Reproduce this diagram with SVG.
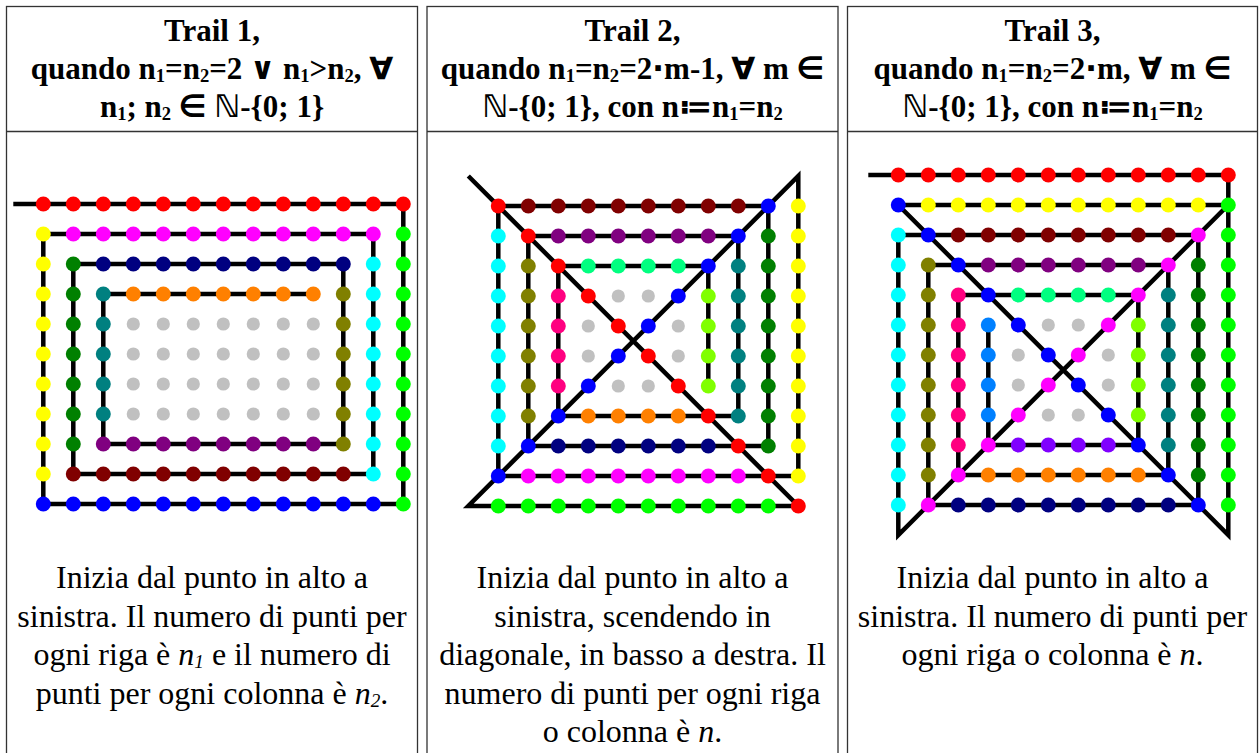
<svg xmlns="http://www.w3.org/2000/svg" width="1259" height="753" viewBox="0 0 1259 753">
<style>
.cell{fill:none;stroke:#333;stroke-width:1.3}
.h{font-family:"Liberation Serif","DejaVu Sans",serif;font-weight:bold;font-size:31px;text-anchor:middle;fill:#000}
.b{font-family:"Liberation Serif","DejaVu Serif",serif;font-size:32px;text-anchor:middle;fill:#000}
.s{font-size:60%;baseline-shift:-3px}
.i{font-style:italic}
.trail{fill:none;stroke:#000;stroke-width:.15px;stroke-linejoin:miter;stroke-linecap:butt}
.dots circle{r:.25px}
.dots .G circle{r:.22px}
.R{fill:#FF0000}.M{fill:#FF00FF}.N{fill:#000080}.O{fill:#FF8000}.G{fill:#C0C0C0}
.Y{fill:#FFFF00}.DG{fill:#008000}.T{fill:#008080}.OL{fill:#808000}.P{fill:#800080}
.MR{fill:#800000}.C{fill:#00FFFF}.L{fill:#00FF00}.B{fill:#0000FF}.SG{fill:#00FF80}
.PK{fill:#FF0080}.CH{fill:#80FF00}.AZ{fill:#0080FF}.V{fill:#8000FF}
</style>

<g id="table">
<rect class="cell" x="6.5" y="6.5" width="411" height="770"/>
<rect class="cell" x="427" y="6.5" width="411" height="770"/>
<rect class="cell" x="847.5" y="6.5" width="410" height="770"/>
<line class="cell" x1="6.5" y1="131.5" x2="417.5" y2="131.5"/>
<line class="cell" x1="427" y1="131.5" x2="838" y2="131.5"/>
<line class="cell" x1="847.5" y1="131.5" x2="1257.5" y2="131.5"/>
</g>

<g id="header1">
<text class="h" x="212" y="41">Trail 1,</text>
<text class="h" x="212" y="79">quando n<tspan class="s">1</tspan>=n<tspan class="s">2</tspan>=2 ∨ n<tspan class="s">1</tspan>&gt;n<tspan class="s">2</tspan>, ∀</text>
<text class="h" x="212" y="117">n<tspan class="s">1</tspan>; n<tspan class="s">2</tspan> ∈ ℕ-{0; 1}</text>
</g>
<g id="header2">
<text class="h" x="632.5" y="41">Trail 2,</text>
<text class="h" x="632.5" y="79">quando n<tspan class="s">1</tspan>=n<tspan class="s">2</tspan>=2⋅m-1, ∀ m ∈</text>
<text class="h" x="632.5" y="117">ℕ-{0; 1}, con n≔n<tspan class="s">1</tspan>=n<tspan class="s">2</tspan></text>
</g>
<g id="header3">
<text class="h" x="1052.5" y="41">Trail 3,</text>
<text class="h" x="1052.5" y="79">quando n<tspan class="s">1</tspan>=n<tspan class="s">2</tspan>=2⋅m, ∀ m ∈</text>
<text class="h" x="1052.5" y="117">ℕ-{0; 1}, con n≔n<tspan class="s">1</tspan>=n<tspan class="s">2</tspan></text>
</g>

<g id="panel1" transform="translate(43.3,204) scale(30)">
<g id="connectors1"><polyline class="trail" points="-1,0 12,0 12,10 0,10 0,1 11,1 11,9 1,9 1,2 10,2 10,8 2,8 2,3 9,3"/></g>
<g class="dots">
<g class="R"><circle cx="0" cy="0"/><circle cx="1" cy="0"/><circle cx="2" cy="0"/><circle cx="3" cy="0"/><circle cx="4" cy="0"/><circle cx="5" cy="0"/><circle cx="6" cy="0"/><circle cx="7" cy="0"/><circle cx="8" cy="0"/><circle cx="9" cy="0"/><circle cx="10" cy="0"/><circle cx="11" cy="0"/><circle cx="12" cy="0"/></g>
<g class="L"><circle cx="12" cy="1"/><circle cx="12" cy="2"/><circle cx="12" cy="3"/><circle cx="12" cy="4"/><circle cx="12" cy="5"/><circle cx="12" cy="6"/><circle cx="12" cy="7"/><circle cx="12" cy="8"/><circle cx="12" cy="9"/><circle cx="12" cy="10"/></g>
<g class="B"><circle cx="0" cy="10"/><circle cx="1" cy="10"/><circle cx="2" cy="10"/><circle cx="3" cy="10"/><circle cx="4" cy="10"/><circle cx="5" cy="10"/><circle cx="6" cy="10"/><circle cx="7" cy="10"/><circle cx="8" cy="10"/><circle cx="9" cy="10"/><circle cx="10" cy="10"/><circle cx="11" cy="10"/></g>
<g class="Y"><circle cx="0" cy="1"/><circle cx="0" cy="2"/><circle cx="0" cy="3"/><circle cx="0" cy="4"/><circle cx="0" cy="5"/><circle cx="0" cy="6"/><circle cx="0" cy="7"/><circle cx="0" cy="8"/><circle cx="0" cy="9"/></g>
<g class="M"><circle cx="1" cy="1"/><circle cx="2" cy="1"/><circle cx="3" cy="1"/><circle cx="4" cy="1"/><circle cx="5" cy="1"/><circle cx="6" cy="1"/><circle cx="7" cy="1"/><circle cx="8" cy="1"/><circle cx="9" cy="1"/><circle cx="10" cy="1"/><circle cx="11" cy="1"/></g>
<g class="C"><circle cx="11" cy="2"/><circle cx="11" cy="3"/><circle cx="11" cy="4"/><circle cx="11" cy="5"/><circle cx="11" cy="6"/><circle cx="11" cy="7"/><circle cx="11" cy="8"/><circle cx="11" cy="9"/></g>
<g class="MR"><circle cx="1" cy="9"/><circle cx="2" cy="9"/><circle cx="3" cy="9"/><circle cx="4" cy="9"/><circle cx="5" cy="9"/><circle cx="6" cy="9"/><circle cx="7" cy="9"/><circle cx="8" cy="9"/><circle cx="9" cy="9"/><circle cx="10" cy="9"/></g>
<g class="DG"><circle cx="1" cy="2"/><circle cx="1" cy="3"/><circle cx="1" cy="4"/><circle cx="1" cy="5"/><circle cx="1" cy="6"/><circle cx="1" cy="7"/><circle cx="1" cy="8"/></g>
<g class="N"><circle cx="2" cy="2"/><circle cx="3" cy="2"/><circle cx="4" cy="2"/><circle cx="5" cy="2"/><circle cx="6" cy="2"/><circle cx="7" cy="2"/><circle cx="8" cy="2"/><circle cx="9" cy="2"/><circle cx="10" cy="2"/></g>
<g class="OL"><circle cx="10" cy="3"/><circle cx="10" cy="4"/><circle cx="10" cy="5"/><circle cx="10" cy="6"/><circle cx="10" cy="7"/><circle cx="10" cy="8"/></g>
<g class="P"><circle cx="2" cy="8"/><circle cx="3" cy="8"/><circle cx="4" cy="8"/><circle cx="5" cy="8"/><circle cx="6" cy="8"/><circle cx="7" cy="8"/><circle cx="8" cy="8"/><circle cx="9" cy="8"/></g>
<g class="T"><circle cx="2" cy="3"/><circle cx="2" cy="4"/><circle cx="2" cy="5"/><circle cx="2" cy="6"/><circle cx="2" cy="7"/></g>
<g class="O"><circle cx="3" cy="3"/><circle cx="4" cy="3"/><circle cx="5" cy="3"/><circle cx="6" cy="3"/><circle cx="7" cy="3"/><circle cx="8" cy="3"/><circle cx="9" cy="3"/></g>
<g class="G">
<circle cx="3" cy="4"/><circle cx="4" cy="4"/><circle cx="5" cy="4"/><circle cx="6" cy="4"/><circle cx="7" cy="4"/><circle cx="8" cy="4"/><circle cx="9" cy="4"/>
<circle cx="3" cy="5"/><circle cx="4" cy="5"/><circle cx="5" cy="5"/><circle cx="6" cy="5"/><circle cx="7" cy="5"/><circle cx="8" cy="5"/><circle cx="9" cy="5"/>
<circle cx="3" cy="6"/><circle cx="4" cy="6"/><circle cx="5" cy="6"/><circle cx="6" cy="6"/><circle cx="7" cy="6"/><circle cx="8" cy="6"/><circle cx="9" cy="6"/>
<circle cx="3" cy="7"/><circle cx="4" cy="7"/><circle cx="5" cy="7"/><circle cx="6" cy="7"/><circle cx="7" cy="7"/><circle cx="8" cy="7"/><circle cx="9" cy="7"/>
</g>
</g>
</g>

<g id="panel2" transform="translate(498.3,206) scale(30)">
<g id="connectors2"><polyline class="trail" points="-1,-1 10,10 -1,10 10,-1 10,9 0,9 0,0 9,0 9,8 1,8 1,1 8,1 8,7 2,7 2,2 7,2 7,6"/></g>
<g class="dots">
<g class="R"><circle cx="0" cy="0"/><circle cx="1" cy="1"/><circle cx="2" cy="2"/><circle cx="3" cy="3"/><circle cx="4" cy="4"/><circle cx="5" cy="5"/><circle cx="6" cy="6"/><circle cx="7" cy="7"/><circle cx="8" cy="8"/><circle cx="9" cy="9"/><circle cx="10" cy="10"/></g>
<g class="B"><circle cx="9" cy="0"/><circle cx="8" cy="1"/><circle cx="7" cy="2"/><circle cx="6" cy="3"/><circle cx="5" cy="4"/><circle cx="4" cy="5"/><circle cx="3" cy="6"/><circle cx="2" cy="7"/><circle cx="1" cy="8"/><circle cx="0" cy="9"/></g>
<g class="MR"><circle cx="1" cy="0"/><circle cx="2" cy="0"/><circle cx="3" cy="0"/><circle cx="4" cy="0"/><circle cx="5" cy="0"/><circle cx="6" cy="0"/><circle cx="7" cy="0"/><circle cx="8" cy="0"/></g>
<g class="Y"><circle cx="10" cy="0"/><circle cx="10" cy="1"/><circle cx="10" cy="2"/><circle cx="10" cy="3"/><circle cx="10" cy="4"/><circle cx="10" cy="5"/><circle cx="10" cy="6"/><circle cx="10" cy="7"/><circle cx="10" cy="8"/><circle cx="10" cy="9"/></g>
<g class="L"><circle cx="0" cy="10"/><circle cx="1" cy="10"/><circle cx="2" cy="10"/><circle cx="3" cy="10"/><circle cx="4" cy="10"/><circle cx="5" cy="10"/><circle cx="6" cy="10"/><circle cx="7" cy="10"/><circle cx="8" cy="10"/><circle cx="9" cy="10"/></g>
<g class="M"><circle cx="1" cy="9"/><circle cx="2" cy="9"/><circle cx="3" cy="9"/><circle cx="4" cy="9"/><circle cx="5" cy="9"/><circle cx="6" cy="9"/><circle cx="7" cy="9"/><circle cx="8" cy="9"/></g>
<g class="C"><circle cx="0" cy="1"/><circle cx="0" cy="2"/><circle cx="0" cy="3"/><circle cx="0" cy="4"/><circle cx="0" cy="5"/><circle cx="0" cy="6"/><circle cx="0" cy="7"/><circle cx="0" cy="8"/></g>
<g class="DG"><circle cx="9" cy="1"/><circle cx="9" cy="2"/><circle cx="9" cy="3"/><circle cx="9" cy="4"/><circle cx="9" cy="5"/><circle cx="9" cy="6"/><circle cx="9" cy="7"/><circle cx="9" cy="8"/></g>
<g class="P"><circle cx="2" cy="1"/><circle cx="3" cy="1"/><circle cx="4" cy="1"/><circle cx="5" cy="1"/><circle cx="6" cy="1"/><circle cx="7" cy="1"/></g>
<g class="N"><circle cx="2" cy="8"/><circle cx="3" cy="8"/><circle cx="4" cy="8"/><circle cx="5" cy="8"/><circle cx="6" cy="8"/><circle cx="7" cy="8"/></g>
<g class="OL"><circle cx="1" cy="2"/><circle cx="1" cy="3"/><circle cx="1" cy="4"/><circle cx="1" cy="5"/><circle cx="1" cy="6"/><circle cx="1" cy="7"/></g>
<g class="T"><circle cx="8" cy="2"/><circle cx="8" cy="3"/><circle cx="8" cy="4"/><circle cx="8" cy="5"/><circle cx="8" cy="6"/><circle cx="8" cy="7"/></g>
<g class="SG"><circle cx="3" cy="2"/><circle cx="4" cy="2"/><circle cx="5" cy="2"/><circle cx="6" cy="2"/></g>
<g class="O"><circle cx="3" cy="7"/><circle cx="4" cy="7"/><circle cx="5" cy="7"/><circle cx="6" cy="7"/></g>
<g class="PK"><circle cx="2" cy="3"/><circle cx="2" cy="4"/><circle cx="2" cy="5"/><circle cx="2" cy="6"/></g>
<g class="CH"><circle cx="7" cy="3"/><circle cx="7" cy="4"/><circle cx="7" cy="5"/><circle cx="7" cy="6"/></g>
<g class="G"><circle cx="4" cy="3"/><circle cx="5" cy="3"/><circle cx="3" cy="4"/><circle cx="6" cy="4"/><circle cx="3" cy="5"/><circle cx="6" cy="5"/><circle cx="4" cy="6"/><circle cx="5" cy="6"/></g>
</g>
</g>

<g id="panel3" transform="translate(898.3,175) scale(30)">
<g id="connectors3"><polyline class="trail" points="-1,0 11,0 11,1 0,1 11,12 11,1 0,12 0,2 10,2 10,11 1,11 1,3 9,3 9,10 2,10 2,4 8,4 8,9 3,9 3,5"/></g>
<g class="dots">
<g class="R"><circle cx="0" cy="0"/><circle cx="1" cy="0"/><circle cx="2" cy="0"/><circle cx="3" cy="0"/><circle cx="4" cy="0"/><circle cx="5" cy="0"/><circle cx="6" cy="0"/><circle cx="7" cy="0"/><circle cx="8" cy="0"/><circle cx="9" cy="0"/><circle cx="10" cy="0"/><circle cx="11" cy="0"/></g>
<g class="B"><circle cx="0" cy="1"/><circle cx="1" cy="2"/><circle cx="2" cy="3"/><circle cx="3" cy="4"/><circle cx="4" cy="5"/><circle cx="5" cy="6"/><circle cx="6" cy="7"/><circle cx="7" cy="8"/><circle cx="8" cy="9"/><circle cx="9" cy="10"/><circle cx="10" cy="11"/></g>
<g class="M"><circle cx="10" cy="2"/><circle cx="9" cy="3"/><circle cx="8" cy="4"/><circle cx="7" cy="5"/><circle cx="6" cy="6"/><circle cx="5" cy="7"/><circle cx="4" cy="8"/><circle cx="3" cy="9"/><circle cx="2" cy="10"/><circle cx="1" cy="11"/></g>
<g class="L"><circle cx="11" cy="1"/><circle cx="11" cy="2"/><circle cx="11" cy="3"/><circle cx="11" cy="4"/><circle cx="11" cy="5"/><circle cx="11" cy="6"/><circle cx="11" cy="7"/><circle cx="11" cy="8"/><circle cx="11" cy="9"/><circle cx="11" cy="10"/><circle cx="11" cy="11"/></g>
<g class="Y"><circle cx="1" cy="1"/><circle cx="2" cy="1"/><circle cx="3" cy="1"/><circle cx="4" cy="1"/><circle cx="5" cy="1"/><circle cx="6" cy="1"/><circle cx="7" cy="1"/><circle cx="8" cy="1"/><circle cx="9" cy="1"/><circle cx="10" cy="1"/></g>
<g class="C"><circle cx="0" cy="2"/><circle cx="0" cy="3"/><circle cx="0" cy="4"/><circle cx="0" cy="5"/><circle cx="0" cy="6"/><circle cx="0" cy="7"/><circle cx="0" cy="8"/><circle cx="0" cy="9"/><circle cx="0" cy="10"/><circle cx="0" cy="11"/></g>
<g class="MR"><circle cx="2" cy="2"/><circle cx="3" cy="2"/><circle cx="4" cy="2"/><circle cx="5" cy="2"/><circle cx="6" cy="2"/><circle cx="7" cy="2"/><circle cx="8" cy="2"/><circle cx="9" cy="2"/></g>
<g class="DG"><circle cx="10" cy="3"/><circle cx="10" cy="4"/><circle cx="10" cy="5"/><circle cx="10" cy="6"/><circle cx="10" cy="7"/><circle cx="10" cy="8"/><circle cx="10" cy="9"/><circle cx="10" cy="10"/></g>
<g class="N"><circle cx="2" cy="11"/><circle cx="3" cy="11"/><circle cx="4" cy="11"/><circle cx="5" cy="11"/><circle cx="6" cy="11"/><circle cx="7" cy="11"/><circle cx="8" cy="11"/><circle cx="9" cy="11"/></g>
<g class="OL"><circle cx="1" cy="3"/><circle cx="1" cy="4"/><circle cx="1" cy="5"/><circle cx="1" cy="6"/><circle cx="1" cy="7"/><circle cx="1" cy="8"/><circle cx="1" cy="9"/><circle cx="1" cy="10"/></g>
<g class="P"><circle cx="3" cy="3"/><circle cx="4" cy="3"/><circle cx="5" cy="3"/><circle cx="6" cy="3"/><circle cx="7" cy="3"/><circle cx="8" cy="3"/></g>
<g class="T"><circle cx="9" cy="4"/><circle cx="9" cy="5"/><circle cx="9" cy="6"/><circle cx="9" cy="7"/><circle cx="9" cy="8"/><circle cx="9" cy="9"/></g>
<g class="O"><circle cx="3" cy="10"/><circle cx="4" cy="10"/><circle cx="5" cy="10"/><circle cx="6" cy="10"/><circle cx="7" cy="10"/><circle cx="8" cy="10"/></g>
<g class="PK"><circle cx="2" cy="4"/><circle cx="2" cy="5"/><circle cx="2" cy="6"/><circle cx="2" cy="7"/><circle cx="2" cy="8"/><circle cx="2" cy="9"/></g>
<g class="SG"><circle cx="4" cy="4"/><circle cx="5" cy="4"/><circle cx="6" cy="4"/><circle cx="7" cy="4"/></g>
<g class="CH"><circle cx="8" cy="5"/><circle cx="8" cy="6"/><circle cx="8" cy="7"/><circle cx="8" cy="8"/></g>
<g class="V"><circle cx="4" cy="9"/><circle cx="5" cy="9"/><circle cx="6" cy="9"/><circle cx="7" cy="9"/></g>
<g class="AZ"><circle cx="3" cy="5"/><circle cx="3" cy="6"/><circle cx="3" cy="7"/><circle cx="3" cy="8"/></g>
<g class="G"><circle cx="5" cy="5"/><circle cx="6" cy="5"/><circle cx="4" cy="6"/><circle cx="7" cy="6"/><circle cx="4" cy="7"/><circle cx="7" cy="7"/><circle cx="5" cy="8"/><circle cx="6" cy="8"/></g>
</g>
</g>

<g id="text1">
<text class="b" x="212" y="588">Inizia dal punto in alto a</text>
<text class="b" x="212" y="626.5">sinistra. Il numero di punti per</text>
<text class="b" x="212" y="665">ogni riga è <tspan class="i">n</tspan><tspan class="i s">1</tspan> e il numero di</text>
<text class="b" x="212" y="703.5">punti per ogni colonna è <tspan class="i">n</tspan><tspan class="i s">2</tspan>.</text>
</g>
<g id="text2">
<text class="b" x="632.5" y="588">Inizia dal punto in alto a</text>
<text class="b" x="632.5" y="626.5">sinistra, scendendo in</text>
<text class="b" x="632.5" y="665">diagonale, in basso a destra. Il</text>
<text class="b" x="632.5" y="703.5">numero di punti per ogni riga</text>
<text class="b" x="632.5" y="742">o colonna è <tspan class="i">n</tspan>.</text>
</g>
<g id="text3">
<text class="b" x="1052.5" y="588">Inizia dal punto in alto a</text>
<text class="b" x="1052.5" y="626.5">sinistra. Il numero di punti per</text>
<text class="b" x="1052.5" y="665">ogni riga o colonna è <tspan class="i">n</tspan>.</text>
</g>
</svg>
